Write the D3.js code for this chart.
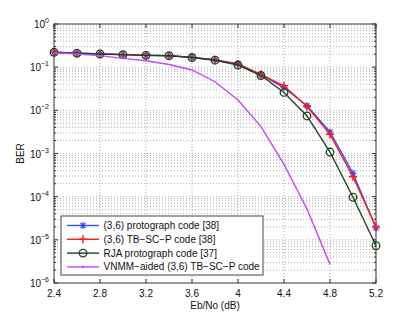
<!DOCTYPE html>
<html><head><meta charset="utf-8">
<script src="https://cdn.jsdelivr.net/npm/d3@7"></script>
<style>body{margin:0;background:#fff}svg{display:block;font-family:"Liberation Sans",Arial,sans-serif}</style>
</head><body><svg id="c" width="415" height="319"></svg>
<script>
const ebno = [2.4,2.6,2.8,3.0,3.2,3.4,3.6,3.8,4.0,4.2,4.4,4.6,4.8,5.0,5.2];
const protograph = [0.221,0.21,0.202,0.195,0.188,0.185,0.169,0.147,0.12,0.066,0.0335,0.0128,0.00315,3.47e-4,1.88e-5];
const tbscp = [0.221,0.21,0.202,0.195,0.188,0.185,0.169,0.148,0.116,0.068,0.037,0.0122,0.00278,2.9e-4,2.0e-5];
const rja = [0.221,0.21,0.202,0.195,0.188,0.184,0.167,0.145,0.112,0.064,0.026,0.0074,0.00108,9.7e-5,7.3e-6];
const vnmmX = [2.4,2.6,2.8,3.0,3.2,3.4,3.6,3.8,4.0,4.2,4.4,4.6,4.8];
const vnmm = [0.217,0.202,0.185,0.16,0.141,0.115,0.086,0.046,0.0174,0.0042,5.6e-4,5.2e-5,2.7e-6];
const xTicks = [2.4,2.8,3.2,3.6,4.0,4.4,4.8,5.2];
const xTickLabels = ["2.4","2.8","3.2","3.6","4","4.4","4.8","5.2"];
const yExps = [0,-1,-2,-3,-4,-5,-6];
const seriesNames = ["(3,6) protograph code [38]","(3,6) TB\u2212SC\u2212P code [38]","RJA protograph code [37]","VNMM\u2212aided (3,6) TB\u2212SC\u2212P code"];

const L=54,R=376,T=24,B=283;
const svg=d3.select("#c");
const x=d3.scaleLinear().domain([2.4,5.2]).range([L,R]);
const y=d3.scaleLog().domain([1e-6,1]).range([B,T]);
const grid="#9a9a9a";
const g=svg.append("g");
// minor horizontal grid
const minor=[];
for(let e=-6;e<0;e++){for(let k=2;k<=9;k++)minor.push(k*Math.pow(10,e));}
g.selectAll(".hm").data(minor).enter().append("line")
 .attr("x1",L).attr("x2",R).attr("y1",d=>y(d)).attr("y2",d=>y(d))
 .attr("stroke",grid).attr("stroke-width",0.8).attr("stroke-dasharray","1,2");
g.selectAll(".hM").data(yExps.slice(1,-1)).enter().append("line")
 .attr("x1",L).attr("x2",R).attr("y1",d=>y(Math.pow(10,d))).attr("y2",d=>y(Math.pow(10,d)))
 .attr("stroke",grid).attr("stroke-width",0.8).attr("stroke-dasharray","1,2");
g.selectAll(".v").data(xTicks.slice(1,-1)).enter().append("line")
 .attr("y1",T).attr("y2",B).attr("x1",d=>x(d)).attr("x2",d=>x(d))
 .attr("stroke",grid).attr("stroke-width",0.8).attr("stroke-dasharray","1,2");

// axes
const ax=svg.append("g").attr("stroke","#333").attr("stroke-width",1).attr("fill","none");
ax.append("rect").attr("x",L).attr("y",T).attr("width",R-L).attr("height",B-T);
xTicks.forEach(t=>{ax.append("line").attr("x1",x(t)).attr("x2",x(t)).attr("y1",B).attr("y2",B-4);
 ax.append("line").attr("x1",x(t)).attr("x2",x(t)).attr("y1",T).attr("y2",T+4);});
yExps.forEach(e=>{const yy=y(Math.pow(10,e));ax.append("line").attr("x1",L).attr("x2",L+4).attr("y1",yy).attr("y2",yy);
 ax.append("line").attr("x1",R).attr("x2",R-4).attr("y1",yy).attr("y2",yy);});
minor.forEach(m=>{const yy=y(m);ax.append("line").attr("x1",L).attr("x2",L+2).attr("y1",yy).attr("y2",yy);
 ax.append("line").attr("x1",R).attr("x2",R-2).attr("y1",yy).attr("y2",yy);});

// tick labels
svg.selectAll(".xl").data(xTicks).enter().append("text")
 .attr("x",d=>x(d)).attr("y",B+14).attr("text-anchor","middle").attr("font-size",10).attr("fill","#111")
 .text((d,i)=>xTickLabels[i]);
yExps.forEach(e=>{
 const t=svg.append("text").attr("x",L-5).attr("y",y(Math.pow(10,e))+4).attr("text-anchor","end").attr("font-size",10).attr("fill","#111");
 t.append("tspan").text("10");
 t.append("tspan").attr("font-size",7).attr("dy",-5).text(e===0?"0":"\u2212"+(-e));
});
svg.append("text").attr("x",(L+R)/2).attr("y",309).attr("text-anchor","middle").attr("font-size",10).attr("fill","#111").text("Eb/No (dB)");
svg.append("text").attr("transform",`translate(24,${(T+B)/2}) rotate(-90)`).attr("text-anchor","middle").attr("font-size",10).attr("fill","#111").text("BER");

// markers
function marker(sel,type,color){
 if(type==="star"){
  sel.append("path").attr("d","M-3.5,0H3.5M0,-3.5V3.5M-2.5,-2.5L2.5,2.5M-2.5,2.5L2.5,-2.5").attr("stroke",color).attr("stroke-width",1.2).attr("fill","none");
 } else if(type==="plus"){
  sel.append("path").attr("d","M-4,0H4M0,-4V4").attr("stroke",color).attr("stroke-width",1.5).attr("fill","none");
 } else if(type==="circle"){
  sel.append("circle").attr("r",3.8).attr("stroke",color).attr("stroke-width",1.3).attr("fill","none");
 } else if(type==="dot"){
  sel.append("path").attr("d","M-1.5,0H1.5M0,-1.5V1.5").attr("stroke",color).attr("stroke-width",1).attr("fill","none");
 }
}
const series=[
 {xs:ebno,ys:protograph,color:"#2e50ff",m:"star"},
 {xs:ebno,ys:tbscp,color:"#ff1a1a",m:"plus"},
 {xs:ebno,ys:rja,color:"#1d4420",m:"circle"},
 {xs:vnmmX,ys:vnmm,color:"#c046ff",m:null}
];
const line=d3.line().x(d=>x(d[0])).y(d=>y(d[1]));
series.forEach(s=>{
 const pts=s.xs.map((v,i)=>[v,s.ys[i]]);
 svg.append("path").datum(pts).attr("d",line).attr("fill","none").attr("stroke",s.color).attr("stroke-width",1.4);
 if(s.m){pts.forEach(p=>{const gg=svg.append("g").attr("transform",`translate(${x(p[0])},${y(p[1])})`);marker(gg,s.m,s.color);});}
});

// legend
const lg=svg.append("g");
lg.append("rect").attr("x",61).attr("y",216).attr("width",202).attr("height",59).attr("fill","#fff").attr("stroke","#444").attr("stroke-width",1);
const lm=["star","plus","circle","dot"];
seriesNames.forEach((n,i)=>{
 const yy=225.5+i*13.8;
 lg.append("line").attr("x1",67).attr("x2",99).attr("y1",yy).attr("y2",yy).attr("stroke",series[i].color).attr("stroke-width",1.4);
 const gg=lg.append("g").attr("transform",`translate(83,${yy})`);marker(gg,lm[i],series[i].color);
 lg.append("text").attr("x",103.5).attr("y",yy+3.5).attr("font-size",10).attr("fill","#111").text(n);
});
</script></body></html>
